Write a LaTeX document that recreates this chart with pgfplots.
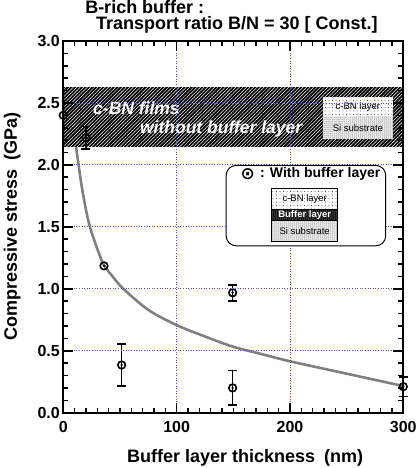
\documentclass[border=0pt]{standalone}
\usepackage{fontspec}
\setmainfont{Liberation Sans}
\newfontfamily\symfont{DejaVu Sans}
\usepackage{pgfplots}
\usepackage{pgfplotstable}
\pgfplotsset{compat=1.18}
\usetikzlibrary{patterns.meta}

\definecolor{gridblue}{RGB}{80,80,255}
\newcommand{\fs}[1]{\fontsize{#1bp}{#1bp}\selectfont}

% points with buffer layer (nm, GPa, error)
\pgfplotstableread{
x     y      e
20    2.22   0.09
51.5  0.385  0.17
149.4 0.968  0.065
149.4 0.20   0.14
300   0.21   0.08
}\witherr
\pgfplotstableread{
x     y
0     2.40
35.9  1.185
}\noerr
% fitted curve
\pgfplotstableread{
x     y
9.5   2.42
11.2  2.16
13.2  2.02
17.1  1.78
22.9  1.52
30.9  1.30
36    1.19
43.9  1.095
53    1.00
75    0.83
100   0.707
125   0.615
150   0.532
175   0.473
200   0.415
250   0.315
275   0.265
300   0.215
}\fitcurve

\begin{document}
\begin{tikzpicture}
\begin{axis}[
  at={(0,0)}, anchor=south west,
  scale only axis, width=340bp, height=371.7bp,
  xmin=0, xmax=300, ymin=0, ymax=3,
  xtick={0,100,200,300}, ytick={0,0.5,1,1.5,2,2.5,3},
  minor x tick num=9, minor y tick num=4,
  scaled ticks=false,
  set layers=axis on top, axis on top,
  clip=false,
  grid=major,
  major grid style={gridblue, line width=0.8bp, dash pattern=on 1bp off 1.6bp},
  axis line style={line width=2bp},
  tick style={line width=1.6bp, black},
  major tick length=10bp, minor tick length=5bp,
  tick align=inside,
  /pgf/number format/assume math mode=true,
  tick label style={font=\fs{16}\bfseries},
  xticklabel style={yshift=-5bp},
  yticklabel style={/pgf/number format/fixed, /pgf/number format/fixed zerofill, /pgf/number format/precision=1},
  xlabel={Buffer layer thickness\hspace{0.5em}(nm)},
  ylabel={Compressive stress\hspace{0.5em}(GPa)},
  label style={font=\fs{18}\bfseries},
  xlabel style={at={(axis description cs:0.535,-0.1224)}, anchor=center},
  ylabel style={at={(axis description cs:-0.15,0.5)}, anchor=center},
]
% fitted curve
\addplot[black!50, line width=2.6bp, smooth, tension=0.55] table {\fitcurve};

% band: c-BN films without buffer layer
\fill[black] (axis cs:0,2.145) rectangle (axis cs:300,2.63);
\fill[pattern={Lines[angle=45,distance=2.5bp,line width=0.5bp]}, pattern color=white]
  (axis cs:0,2.145) rectangle (axis cs:300,2.63);
\node[anchor=base west, inner sep=0, text=white, font=\fs{17.5}\bfseries\itshape] at (axis cs:26.2,2.406) {c-BN films};
\node[anchor=base west, inner sep=0, text=white, font=\fs{17.5}\bfseries\itshape] at (axis cs:67.6,2.253) {without buffer layer};
\fill[white, postaction={pattern={Dots[distance=3.5bp,radius=0.45bp]}}] (axis cs:229.4,2.548) rectangle (axis cs:290.5,2.387);
\fill[white, postaction={pattern={Dots[distance=2bp,radius=0.5bp]}}] (axis cs:229.4,2.387) rectangle (axis cs:290.5,2.213);
\node[font=\fs{9.5}] at (axis cs:259.95,2.467) {c-BN layer};
\node[font=\fs{9.5}] at (axis cs:259.95,2.300) {Si substrate};

% data with buffer layer
\addplot[only marks, mark=o, mark size=3.8bp, mark options={fill=white, line width=1.6bp, black},
  error bars/.cd, y dir=both, y explicit,
  error bar style={line width=1.6bp, black},
  error mark options={rotate=90, mark size=4.5bp, line width=1.6bp, black}]
  table[x=x, y=y, y error=e] {\witherr};
\addplot[only marks, mark=o, mark size=3.8bp, mark options={fill=white, line width=1.6bp, black}]
  table[x=x, y=y] {\noerr};
\addplot[only marks, mark=*, mark size=1bp, black] table[x=x, y=y] {\witherr};
\addplot[only marks, mark=*, mark size=1bp, black] table[x=x, y=y] {\noerr};

% legend box
\begin{pgfonlayer}{axis foreground}
\draw[line width=1bp, rounded corners=10bp, fill=white] (axis cs:143.7,1.996) rectangle (axis cs:284.5,1.347);
\node[inner sep=0, font=\fs{17}\symfont\bfseries] at (axis cs:162.7,1.926) {⊙};
\node[anchor=west, inner sep=0, font=\fs{14}\bfseries] at (axis cs:173.5,1.93) {: With buffer layer};
\fill[white, postaction={pattern={Dots[distance=3.5bp,radius=0.45bp]}}] (axis cs:184,1.812) rectangle (axis cs:242,1.643);
\fill[black, postaction={pattern={Dots[distance=2bp,radius=0.5bp]}, pattern color=white}] (axis cs:184,1.643) rectangle (axis cs:242,1.548);
\fill[white, postaction={pattern={Dots[distance=2bp,radius=0.5bp]}}] (axis cs:184,1.548) rectangle (axis cs:242,1.379);
\draw[line width=1bp] (axis cs:184,1.812) rectangle (axis cs:242,1.379);
\draw[line width=1bp] (axis cs:184,1.643) -- (axis cs:242,1.643) (axis cs:184,1.548) -- (axis cs:242,1.548);
\node[font=\fs{9.5}] at (axis cs:213,1.728) {c-BN layer};
\node[font=\fs{9.5}\bfseries, text=white] at (axis cs:213,1.596) {Buffer layer};
\node[font=\fs{9.5}] at (axis cs:213,1.464) {Si substrate};
\end{pgfonlayer}

\node[anchor=base west, inner sep=0, font=\fs{18}\bfseries] at (rel axis cs:0.064,1.0745) {B-rich buffer :};
\node[anchor=base west, inner sep=0, font=\fs{18}\bfseries] at (rel axis cs:0.096,1.0300) {Transport ratio B/N = 30 [ Const.]};
\end{axis}
\pgfresetboundingbox
\useasboundingbox (-63.3bp,-55.3bp) rectangle (353.7bp,412.7bp);
\end{tikzpicture}
\end{document}
